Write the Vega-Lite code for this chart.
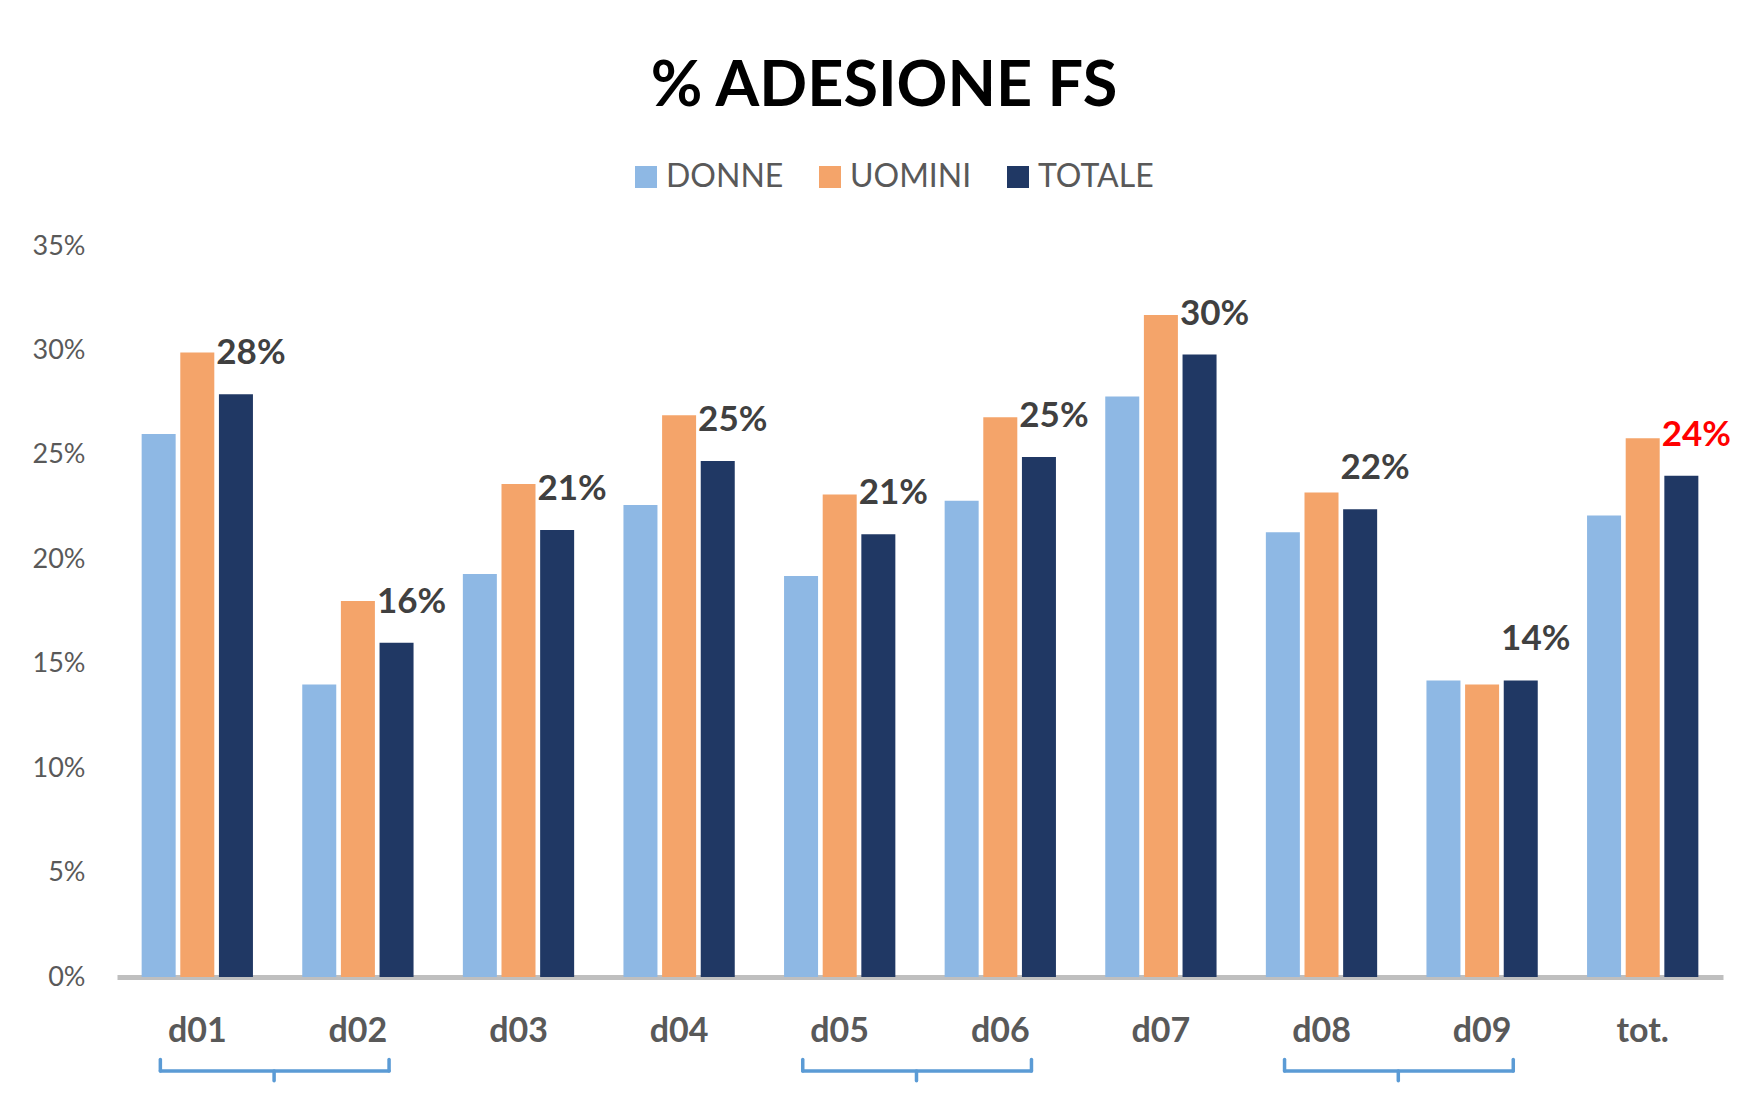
{
  "$schema": "https://vega.github.io/schema/vega-lite/v6.json",
  "autosize": {"type": "none"},
  "width": 1606,
  "height": 731,
  "padding": {"left": 117, "top": 246, "right": 22, "bottom": 117},
  "background": "white",
  "title": {"text": "% ADESIONE FS", "font": "Lato", "fontSize": 63, "fontWeight": "bold", "color": "#000000", "anchor": "middle", "frame": "group", "dx": -36, "offset": 42},
  "config": {"view": {"stroke": null}, "axis": {"grid": false}},
  "layer": [
    {
      "data": {"values": [
        {"cat": "d01", "serie": "DONNE", "v": 0.260}, {"cat": "d01", "serie": "UOMINI", "v": 0.299}, {"cat": "d01", "serie": "TOTALE", "v": 0.279},
        {"cat": "d02", "serie": "DONNE", "v": 0.140}, {"cat": "d02", "serie": "UOMINI", "v": 0.180}, {"cat": "d02", "serie": "TOTALE", "v": 0.160},
        {"cat": "d03", "serie": "DONNE", "v": 0.193}, {"cat": "d03", "serie": "UOMINI", "v": 0.236}, {"cat": "d03", "serie": "TOTALE", "v": 0.214},
        {"cat": "d04", "serie": "DONNE", "v": 0.226}, {"cat": "d04", "serie": "UOMINI", "v": 0.269}, {"cat": "d04", "serie": "TOTALE", "v": 0.247},
        {"cat": "d05", "serie": "DONNE", "v": 0.192}, {"cat": "d05", "serie": "UOMINI", "v": 0.231}, {"cat": "d05", "serie": "TOTALE", "v": 0.212},
        {"cat": "d06", "serie": "DONNE", "v": 0.228}, {"cat": "d06", "serie": "UOMINI", "v": 0.268}, {"cat": "d06", "serie": "TOTALE", "v": 0.249},
        {"cat": "d07", "serie": "DONNE", "v": 0.278}, {"cat": "d07", "serie": "UOMINI", "v": 0.317}, {"cat": "d07", "serie": "TOTALE", "v": 0.298},
        {"cat": "d08", "serie": "DONNE", "v": 0.213}, {"cat": "d08", "serie": "UOMINI", "v": 0.232}, {"cat": "d08", "serie": "TOTALE", "v": 0.224},
        {"cat": "d09", "serie": "DONNE", "v": 0.142}, {"cat": "d09", "serie": "UOMINI", "v": 0.140}, {"cat": "d09", "serie": "TOTALE", "v": 0.142},
        {"cat": "tot.", "serie": "DONNE", "v": 0.221}, {"cat": "tot.", "serie": "UOMINI", "v": 0.258}, {"cat": "tot.", "serie": "TOTALE", "v": 0.240}
      ]},
      "layer": [
        {
          "mark": {"type": "bar"},
          "encoding": {
            "x": {"field": "cat", "type": "nominal",
              "scale": {"domain": ["d01", "d02", "d03", "d04", "d05", "d06", "d07", "d08", "d09", "tot."], "paddingInner": 0.307, "paddingOuter": 0.1535},
              "axis": {"title": null, "ticks": false, "domainColor": "#BFBFBF", "domainWidth": 5, "labelFont": "Lato", "labelFontWeight": "bold", "labelFontSize": 34, "labelColor": "#595959", "labelPadding": 37.5, "labelAngle": 0}},
            "xOffset": {"field": "serie", "type": "nominal", "scale": {"domain": ["DONNE", "UOMINI", "TOTALE"], "paddingInner": 0.12, "paddingOuter": 0}},
            "y": {"field": "v", "type": "quantitative", "scale": {"domain": [0, 0.35], "nice": false},
              "axis": {"title": null, "values": [0, 0.05, 0.1, 0.15, 0.2, 0.25, 0.3, 0.35], "format": ".0%", "ticks": false, "domain": false, "labelFont": "Lato", "labelFontSize": 27, "labelColor": "#595959", "labelPadding": 32}},
            "color": {"field": "serie", "type": "nominal",
              "scale": {"domain": ["DONNE", "UOMINI", "TOTALE"], "range": ["#8EB8E4", "#F4A46A", "#203864"]},
              "legend": {"title": null, "orient": "none", "legendX": 513, "legendY": -85, "direction": "horizontal", "symbolType": "square", "symbolSize": 484, "symbolStrokeWidth": 0, "labelFont": "Lato", "labelFontSize": 32, "labelColor": "#595959", "labelOffset": 4, "columnPadding": 30}}
          }
        },
        {
          "transform": [{"filter": "datum.serie === 'TOTALE'"}],
          "mark": {"type": "text", "dx": 15, "dy": -41, "font": "Lato", "fontWeight": "bold", "fontSize": 35, "baseline": "middle", "align": "center"},
          "encoding": {
            "x": {"field": "cat", "type": "nominal"},
            "xOffset": {"field": "serie", "type": "nominal"},
            "y": {"field": "v", "type": "quantitative"},
            "text": {"field": "v", "type": "quantitative", "format": ".0%"},
            "color": {"condition": {"test": "datum.cat === 'tot.'", "value": "#FF0000"}, "value": "#404040"}
          }
        }
      ]
    },
    {
      "data": {"values": [
        {"from": "d01", "to": "d02"},
        {"from": "d05", "to": "d06"},
        {"from": "d08", "to": "d09"}
      ]},
      "layer": [
        {
          "mark": {"type": "rule", "color": "#5B9BD5", "strokeWidth": 3.5, "strokeCap": "round"},
          "encoding": {
            "x": {"field": "from", "type": "nominal", "bandPosition": 0.168, "axis": {"title": null}},
            "x2": {"field": "to", "bandPosition": 0.78},
            "y": {"datum": -0.045}
          }
        },
        {
          "mark": {"type": "rule", "color": "#5B9BD5", "strokeWidth": 3.5, "strokeCap": "round"},
          "encoding": {
            "x": {"field": "from", "type": "nominal", "bandPosition": 0.168},
            "y": {"datum": -0.045},
            "y2": {"datum": -0.0395}
          }
        },
        {
          "mark": {"type": "rule", "color": "#5B9BD5", "strokeWidth": 3.5, "strokeCap": "round"},
          "encoding": {
            "x": {"field": "to", "type": "nominal", "bandPosition": 0.78},
            "y": {"datum": -0.045},
            "y2": {"datum": -0.0395}
          }
        },
        {
          "mark": {"type": "rule", "color": "#5B9BD5", "strokeWidth": 3.5, "strokeCap": "round"},
          "encoding": {
            "x": {"field": "from", "type": "nominal", "bandPosition": 1.19},
            "y": {"datum": -0.045},
            "y2": {"datum": -0.0497}
          }
        }
      ]
    }
  ]
}
